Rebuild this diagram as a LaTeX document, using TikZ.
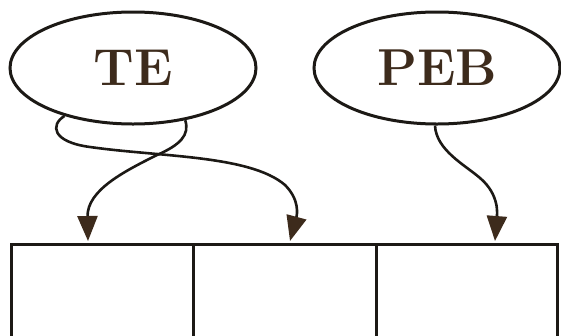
\documentclass[tikz,border=0pt]{standalone}
\usetikzlibrary{shapes.geometric,arrows.meta}
\definecolor{ink}{HTML}{1C1915}
\definecolor{brn}{HTML}{3D2B1C}
\begin{document}
\begin{tikzpicture}[x=1pt,y=-1pt,
  bubble/.style={ellipse, draw=ink, line width=3pt, minimum width=246pt,
    minimum height=112pt, inner sep=0pt, text=brn,
    font=\fontsize{52}{52}\selectfont\bfseries},
  cell/.style={draw=ink, line width=3pt, anchor=north west, inner sep=0pt,
    minimum height=110pt},
  link/.style={draw=ink, line width=2.6pt,
    -{Triangle[length=25pt,width=20pt,color=brn]}}]
\useasboundingbox (0,0) rectangle (561,335);
\node[bubble] (te) at (133,68) {TE};
\node[bubble] (peb) at (437,68) {PEB};
\node[cell, minimum width=182.5pt] (c1) at (9.5,243) {};
\node[cell, minimum width=183pt] (c2) at (192,243) {};
\node[cell, minimum width=181pt] (c3) at (375,243) {};
\coordinate (a1) at (88,241);
\coordinate (a2) at (290,241);
\coordinate (a3) at (495,241);
% loop strand going to the middle cell
\draw[link] (te.215) .. controls (50,125) and (52,142) .. (90,147)
  .. controls (160,157) and (250,155) .. (285,185)
  .. controls (300,200) and (297,215) .. (a2);
% strand going to the first cell
\draw[link] (te.315) .. controls (190,135) and (180,145) .. (157,155)
  .. controls (125,171) and (87,190) .. (a1);
% PEB to the third cell
\draw[link] (peb.268) .. controls (436,150) and (465,165) .. (480,178)
  .. controls (500,195) and (497,215) .. (a3);
\end{tikzpicture}
\end{document}
